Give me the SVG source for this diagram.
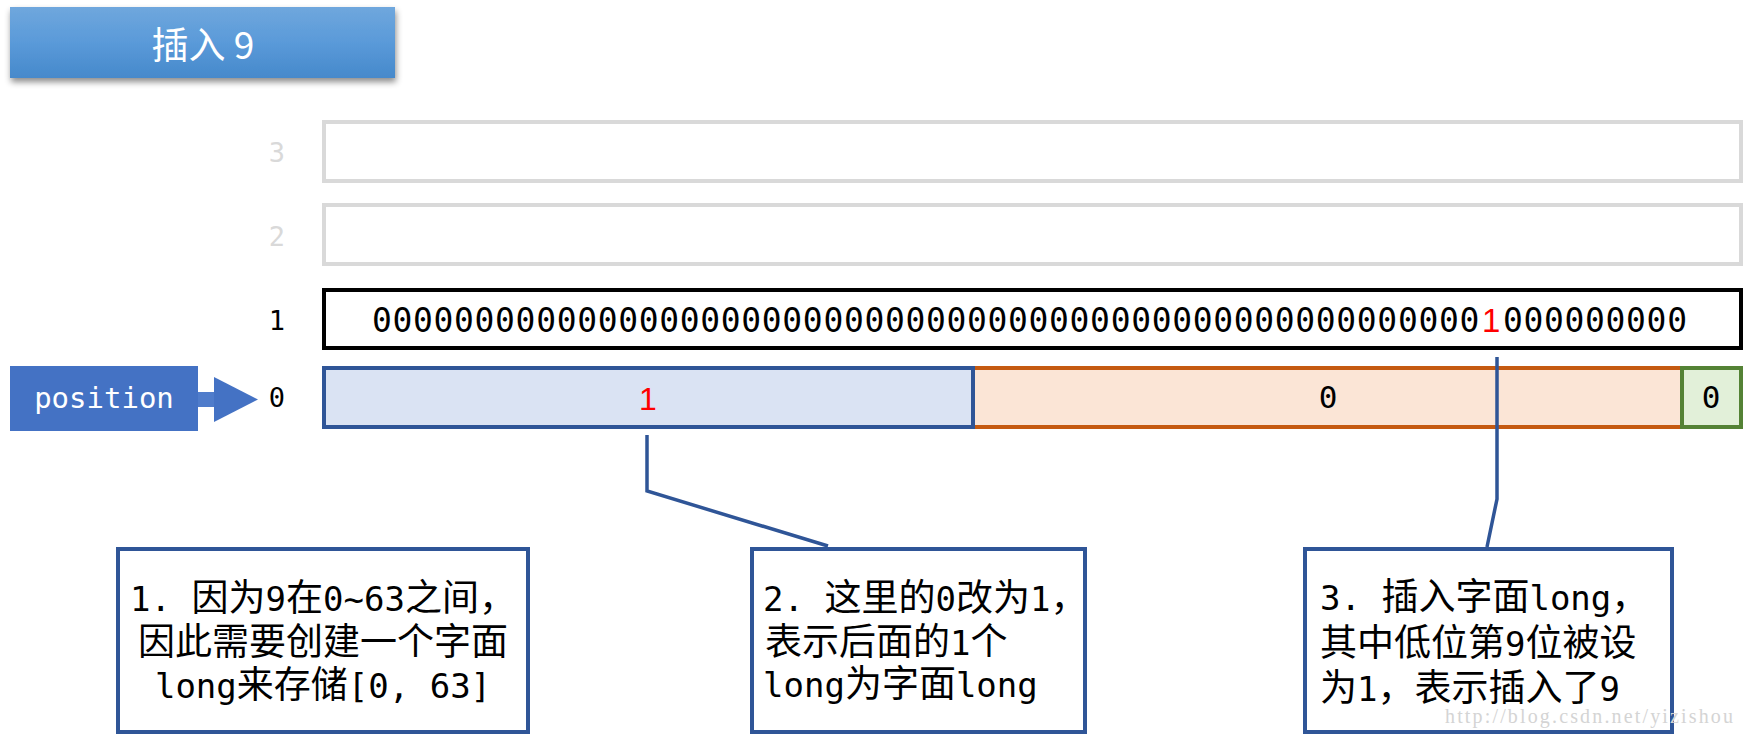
<svg xmlns="http://www.w3.org/2000/svg" width="1745" height="736" viewBox="0 0 1745 736">
<defs>
<linearGradient id="titleGrad" x1="0" y1="0" x2="0" y2="1">
<stop offset="0" stop-color="#6fa7dd"/>
<stop offset="0.5" stop-color="#5a9ad9"/>
<stop offset="1" stop-color="#4689cb"/>
</linearGradient>
<filter id="shadow" x="-10%" y="-30%" width="120%" height="170%">
<feDropShadow dx="1" dy="4" stdDeviation="3" flood-color="#000" flood-opacity="0.45"/>
</filter>
<style>
.mono{font-family:"DejaVu Sans Mono","Liberation Mono",monospace}
.cjk{font-family:"DejaVu Sans Mono","Noto Sans CJK SC",monospace;font-size:37px;fill:#000}
.a{font-size:34px}
.lbl{font-size:27px;text-anchor:middle}
.row{fill:#fff;stroke-width:4}
.conn{fill:none;stroke:#2f5597;stroke-width:3.5}
.callout{fill:#fff;stroke:#2f5597;stroke-width:4}
.red{fill:#ff0000;font-family:"Liberation Sans","Noto Sans",sans-serif}
</style>
</defs>
<rect width="1745" height="736" fill="#fff"/>

<g id="title">
<rect x="10" y="7" width="385" height="71" fill="url(#titleGrad)" filter="url(#shadow)"/>
<text x="203" y="59" font-family="Noto Sans CJK SC, sans-serif" font-size="37" fill="#fff" text-anchor="middle">插入 9</text>
</g>

<g id="row3">
<rect class="row" x="324" y="122" width="1417" height="59" stroke="#d9d9d9"/>
<text class="mono lbl" x="277" y="162" fill="#d9d9d9">3</text>
</g>
<g id="row2">
<rect class="row" x="324" y="205" width="1417" height="59" stroke="#d9d9d9"/>
<text class="mono lbl" x="277" y="246" fill="#d9d9d9">2</text>
</g>
<g id="row1">
<rect class="row" x="324" y="290" width="1417" height="58" stroke="#000"/>
<text class="mono lbl" x="277" y="330" fill="#000">1</text>
<text class="mono" x="372" y="332" font-size="33" letter-spacing="0.65" fill="#000">000000000000000000000000000000000000000000000000000000<tspan class="red" dx="2">1</tspan><tspan dx="2">000000000</tspan></text>
</g>
<g id="row0">
<rect x="324" y="368" width="649" height="59" fill="#dae3f3" stroke="#2f5597" stroke-width="4"/>
<rect x="973" y="368" width="709" height="59" fill="#fbe5d6" stroke="#c55a11" stroke-width="4"/>
<rect x="1682" y="368" width="59" height="59" fill="#e2f0d9" stroke="#548235" stroke-width="4"/>
<rect x="971" y="366" width="4" height="63" fill="#2f5597"/>
<text class="mono lbl" x="277" y="407" fill="#000">0</text>
<text class="red" x="648" y="410" font-size="32" text-anchor="middle">1</text>
<text class="mono" x="1328" y="408" font-size="31" text-anchor="middle" fill="#000">0</text>
<text class="mono" x="1711" y="408" font-size="31" text-anchor="middle" fill="#000">0</text>
</g>

<g id="position">
<rect x="10" y="366" width="188" height="65" fill="#4472c4"/>
<text class="mono" x="104" y="408" font-size="29" text-anchor="middle" fill="#fff">position</text>
<rect x="198" y="392" width="17" height="15" fill="#4f7ccb"/>
<polygon points="214,377 258,399.5 214,422" fill="#4472c4"/>
</g>

<g id="connectors">
<polyline class="conn" points="647,435 647,491 828,546"/>
<polyline class="conn" points="1497,357 1497,499 1487,547"/>
</g>

<g id="note1">
<rect class="callout" x="118" y="549" width="410" height="183"/>
<text class="cjk" x="323" y="611" text-anchor="middle"><tspan class="a">1. </tspan>因为<tspan class="a">9</tspan>在<tspan class="a">0~63</tspan>之间，</text>
<text class="cjk" x="323" y="655" text-anchor="middle">因此需要创建一个字面</text>
<text class="cjk" x="323" y="698" text-anchor="middle"><tspan class="a">long</tspan>来存储<tspan class="a">[0, 63]</tspan></text>
</g>
<g id="note2">
<rect class="callout" x="752" y="549" width="333" height="183"/>
<text class="cjk" x="763" y="611"><tspan class="a">2. </tspan>这里的<tspan class="a">0</tspan>改为<tspan class="a">1</tspan>，</text>
<text class="cjk" x="765" y="655">表示后面的<tspan class="a">1</tspan>个</text>
<text class="cjk" x="763" y="697"><tspan class="a">long</tspan>为字面<tspan class="a">long</tspan></text>
</g>
<g id="note3">
<rect class="callout" x="1305" y="549" width="367" height="183"/>
<text class="cjk" x="1320" y="610"><tspan class="a">3. </tspan>插入字面<tspan class="a">long</tspan>，</text>
<text class="cjk" x="1320" y="656">其中低位第<tspan class="a">9</tspan>位被设</text>
<text class="cjk" x="1320" y="701">为<tspan class="a">1</tspan>，表示插入了<tspan class="a">9</tspan></text>
</g>

<text x="1445" y="723" font-family="Liberation Serif, serif" font-size="20" fill="#d4d4d4" textLength="288">http://blog.csdn.net/yizishou</text>
</svg>
